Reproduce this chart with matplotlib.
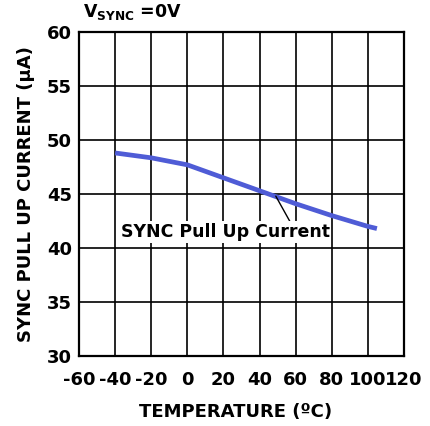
import matplotlib
matplotlib.use('Agg')
import matplotlib.pyplot as plt

plt.rcParams['font.family'] = ['DejaVu Sans']
plt.rcParams['font.weight'] = 'bold'
plt.rcParams['axes.unicode_minus'] = False
plt.rcParams['mathtext.fontset'] = 'custom'
plt.rcParams['mathtext.rm'] = 'DejaVu Sans:bold'
plt.rcParams['mathtext.bf'] = 'DejaVu Sans:bold'

# data
temperature = [-40, -20, 0, 20, 40, 60, 80, 100, 105]
current = [48.8, 48.35, 47.7, 46.5, 45.3, 44.1, 43.0, 42.0, 41.8]

x_ticks = [-60, -40, -20, 0, 20, 40, 60, 80, 100, 120]
y_ticks = [30, 35, 40, 45, 50, 55, 60]

fig = plt.figure(figsize=(4.30, 4.26), dpi=100)
ax = fig.add_axes([79 / 430, 1 - 356 / 426, 325 / 430, 324 / 426])

ax.plot(temperature, current, color='#4f5cd6', linewidth=3.4, solid_capstyle='butt', zorder=3)

ax.set_xlim(-60, 120)
ax.set_ylim(30, 60)
ax.set_xticks(x_ticks)
ax.set_yticks(y_ticks)
ax.tick_params(length=0, labelsize=13)
ax.tick_params(axis='x', pad=11)
ax.tick_params(axis='y', pad=5)
ax.grid(True, color='black', linewidth=1.2)
for sp in ax.spines.values():
    sp.set_linewidth(1.6)

ax.set_xlabel('TEMPERATURE (ºC)', fontsize=13, fontweight='bold', labelpad=10)
ax.xaxis.label.set_x(0.483)
ax.set_ylabel('SYNC PULL UP CURRENT (μA)', fontsize=13, fontweight='bold', labelpad=9)

ax.text(21, 41.5, 'SYNC Pull Up Current', ha='center', va='center',
        fontsize=12.5, fontweight='bold', zorder=4,
        bbox=dict(boxstyle='square,pad=0.1', fc='white', ec='none'))
# leader line from curve to label
ax.annotate('', xy=(49, 44.8), xytext=(57, 42.4),
            arrowprops=dict(arrowstyle='-', color='black', lw=1,
                            shrinkA=0, shrinkB=0))

fig.text(83 / 430, 1 - 12 / 426, r'$\mathbf{V_{SYNC}}$ =0V', fontsize=12.5,
         fontweight='bold', va='center', ha='left')

fig.savefig('out.png', dpi=100)
